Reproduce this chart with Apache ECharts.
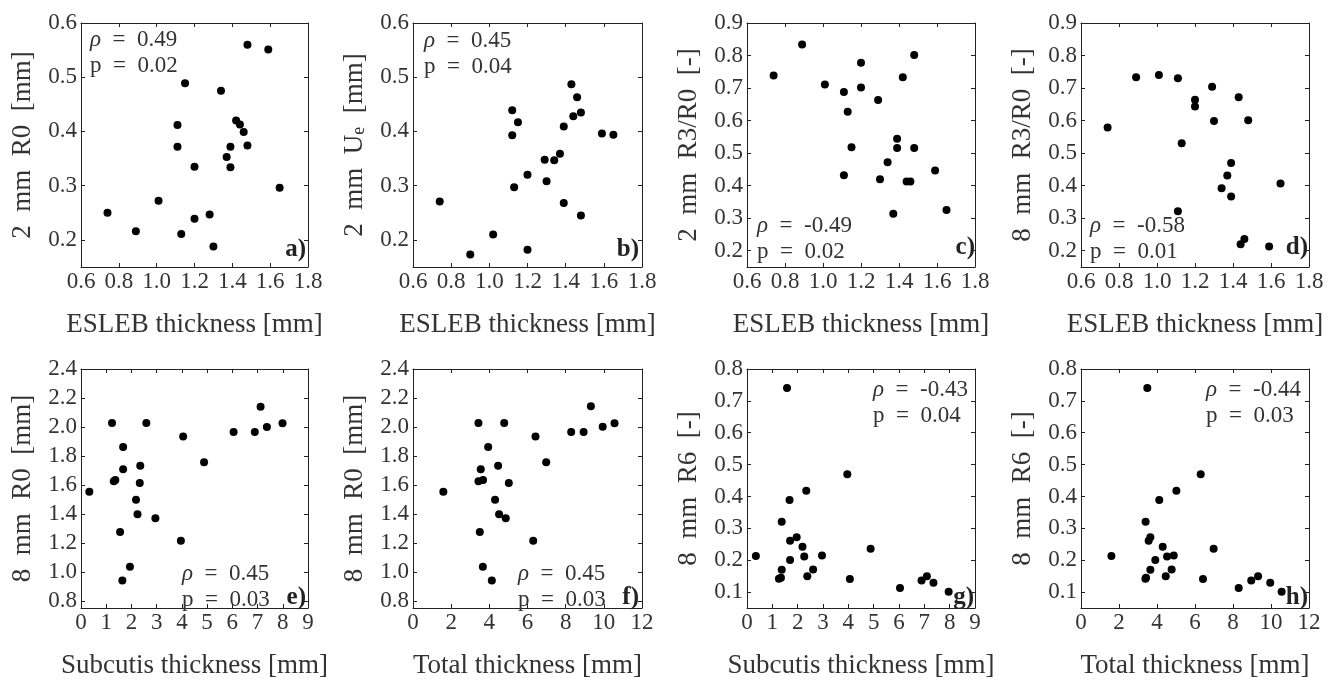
<!DOCTYPE html>
<html><head><meta charset="utf-8">
<script src="https://cdn.jsdelivr.net/npm/echarts@6/dist/echarts.min.js"></script>
<style>html,body{margin:0;padding:0;background:#fff}#c{width:1333px;height:680px}</style>
</head><body><div id="c"></div>
<script>
const FONT = "'Liberation Serif','DejaVu Serif',serif";

// ---- data ----
const aESLEB = [1.48,1.59,1.15,1.34,1.42,1.44,1.46,1.11,1.11,1.39,1.48,1.37,1.39,1.20,1.65,1.01,0.74,1.28,1.20,0.89,1.13,1.30];
const aR0_2mm = [0.560,0.551,0.489,0.475,0.420,0.413,0.399,0.412,0.372,0.372,0.374,0.353,0.334,0.335,0.296,0.272,0.250,0.247,0.239,0.216,0.211,0.188];

const bESLEB = [1.43,1.46,1.12,1.48,1.44,1.15,1.39,1.12,1.59,1.65,1.37,1.29,1.34,1.20,1.30,1.13,0.74,1.39,1.48,1.02,0.90,1.20];
const bUe_2mm = [0.487,0.463,0.439,0.435,0.428,0.417,0.409,0.393,0.396,0.394,0.359,0.348,0.347,0.320,0.308,0.297,0.271,0.268,0.245,0.210,0.173,0.182];

const cESLEB = [0.89,0.74,1.48,1.20,1.42,1.01,1.11,1.20,1.29,1.13,1.39,1.39,1.48,1.15,1.34,1.11,1.30,1.44,1.46,1.59,1.37,1.65];
const cR3R0_2mm = [0.834,0.739,0.802,0.778,0.733,0.711,0.688,0.702,0.663,0.627,0.544,0.516,0.516,0.518,0.472,0.432,0.420,0.413,0.413,0.447,0.314,0.325];

const dESLEB = [0.89,1.01,1.11,1.29,1.20,1.20,1.43,1.30,1.48,0.74,1.13,1.39,1.37,1.34,1.39,1.65,1.11,1.46,1.44,1.59];
const dR3R0_8mm = [0.733,0.740,0.730,0.704,0.664,0.643,0.672,0.599,0.601,0.579,0.530,0.470,0.431,0.392,0.367,0.407,0.321,0.236,0.220,0.213];

const eSubcutis = [1.23,2.59,7.12,6.05,6.89,7.37,7.99,4.05,1.67,4.88,1.67,2.35,1.30,1.36,2.33,0.33,2.18,2.24,2.95,1.55,3.96,1.94,1.64];
const eR0_8mm = [2.028,2.028,2.140,1.965,1.965,1.999,2.026,1.934,1.862,1.757,1.708,1.732,1.625,1.634,1.613,1.553,1.497,1.398,1.369,1.275,1.215,1.035,0.939];

const fTotal = [3.43,4.78,9.32,8.29,8.94,9.94,10.56,6.42,3.94,6.98,3.55,4.46,3.43,3.67,5.02,1.59,4.30,4.51,4.86,3.50,6.30,3.66,4.13];
const fR0_8mm = [2.028,2.028,2.142,1.965,1.965,2.001,2.026,1.934,1.862,1.757,1.708,1.732,1.625,1.634,1.613,1.553,1.497,1.398,1.369,1.275,1.215,1.035,0.939];

const gSubcutis = [1.58,3.96,2.34,1.68,1.37,1.96,1.70,2.19,4.88,0.35,2.26,2.96,1.70,2.61,1.37,1.26,1.34,2.38,4.06,6.04,6.89,7.10,7.36,7.96];
const gR6_8mm = [0.740,0.470,0.418,0.389,0.321,0.272,0.261,0.242,0.236,0.213,0.212,0.215,0.201,0.171,0.170,0.142,0.145,0.150,0.141,0.113,0.136,0.150,0.129,0.101];

const hTotal = [3.49,6.30,5.02,4.12,3.40,3.65,3.56,4.30,6.98,1.60,4.53,4.88,3.91,4.77,3.65,3.39,3.42,4.46,6.42,8.30,8.96,9.32,9.96,10.56];
const hR6_8mm = [0.740,0.470,0.418,0.389,0.321,0.272,0.261,0.242,0.236,0.213,0.212,0.215,0.201,0.171,0.170,0.142,0.145,0.150,0.141,0.113,0.136,0.150,0.129,0.101];

// tick labels
const eslebTicks = [0.6,0.8,1.0,1.2,1.4,1.6,1.8];
const subcutisTicks = [0,1,2,3,4,5,6,7,8,9];
const totalTicks = [0,2,4,6,8,10,12];
const ySmallTicks = [0.2,0.3,0.4,0.5,0.6];
const yRatioTicks = [0.2,0.3,0.4,0.5,0.6,0.7,0.8,0.9];
const yR0Ticks = [0.8,1.0,1.2,1.4,1.6,1.8,2.0,2.2,2.4];
const yR6Ticks = [0.1,0.2,0.3,0.4,0.5,0.6,0.7,0.8];

// statistics text
const rhoText = ['0.49','0.45','-0.49','-0.58','0.45','0.45','-0.43','-0.44'];
const pText = ['0.02','0.04','0.02','0.01','0.03','0.03','0.04','0.03'];
const panelLetters = ['a)','b)','c)','d)','e)','f)','g)','h)'];

// axis names (en spaces to approximate LaTeX word spacing)
const S = '\u2002';
const xNameESLEB = 'ESLEB thickness [mm]';
const xNameSubcutis = 'Subcutis thickness [mm]';
const xNameTotal = 'Total thickness [mm]';
const yNames = ['2'+S+'mm'+S+'R0'+S+'[mm]', '2'+S+'mm'+S+'U{s|e}'+S+'[mm]', '2'+S+'mm'+S+'R3/R0'+S+'[-]', '8'+S+'mm'+S+'R3/R0'+S+'[-]',
                '8'+S+'mm'+S+'R0'+S+'[mm]', '8'+S+'mm'+S+'R0'+S+'[mm]', '8'+S+'mm'+S+'R6'+S+'[-]', '8'+S+'mm'+S+'R6'+S+'[-]'];

// ---- layout ----
const panels = [
  {box:[81,23,227,244], x:aESLEB, y:aR0_2mm, xr:[0.6,1.8], xt:eslebTicks, xd:1, yr:[0.15,0.6], yt:ySmallTicks, xn:xNameESLEB, ann:[90,40], lab:[306,250]},
  {box:[413,23,229,244], x:bESLEB, y:bUe_2mm, xr:[0.6,1.8], xt:eslebTicks, xd:1, yr:[0.15,0.6], yt:ySmallTicks, xn:xNameESLEB, ann:[424,41], lab:[639,250]},
  {box:[747,23,228,244], x:cESLEB, y:cR3R0_2mm, xr:[0.6,1.8], xt:eslebTicks, xd:1, yr:[0.15,0.9], yt:yRatioTicks, xn:xNameESLEB, ann:[757,226], lab:[975,248]},
  {box:[1081,23,228,244], x:dESLEB, y:dR3R0_8mm, xr:[0.6,1.8], xt:eslebTicks, xd:1, yr:[0.15,0.9], yt:yRatioTicks, xn:xNameESLEB, ann:[1090,226], lab:[1308,248]},
  {box:[81,369,227,245], x:eSubcutis, y:eR0_8mm, xr:[0,9], xt:subcutisTicks, xd:0, yr:[0.75,2.4], yt:yR0Ticks, xn:xNameSubcutis, ann:[182,574], lab:[306,598]},
  {box:[413,369,229,245], x:fTotal, y:fR0_8mm, xr:[0,12], xt:totalTicks, xd:0, yr:[0.75,2.4], yt:yR0Ticks, xn:xNameTotal, ann:[518,574], lab:[639,598]},
  {box:[747,369,228,245], x:gSubcutis, y:gR6_8mm, xr:[0,9], xt:subcutisTicks, xd:0, yr:[0.05,0.8], yt:yR6Ticks, xn:xNameSubcutis, ann:[873,390], lab:[974,598]},
  {box:[1081,369,228,245], x:hTotal, y:hR6_8mm, xr:[0,12], xt:totalTicks, xd:0, yr:[0.05,0.8], yt:yR6Ticks, xn:xNameTotal, ann:[1206,390], lab:[1308,598]}
];

const TXT = '#333', LINE = '#222';
const nameStyle = {fontFamily:FONT, fontSize:27, color:TXT, rich:{s:{fontFamily:FONT, fontSize:18, color:TXT, verticalAlign:'bottom'}}};
const labStyle = {fontFamily:FONT, fontSize:23, color:TXT};

const grid=[], xAxis=[], yAxis=[], series=[], graphic=[];
panels.forEach((p,i)=>{
  grid.push({left:p.box[0], top:p.box[1], width:p.box[2], height:p.box[3], containLabel:false});
  [false,true].forEach(m=>{
    xAxis.push({type:'value', gridIndex:i, position:m?'top':'bottom', min:p.xr[0], max:p.xr[1],
      splitLine:{show:false},
      axisLine:{show:true, onZero:false, lineStyle:{color:LINE, width:1}},
      axisTick:{show:true, inside:true, length:4, customValues:p.xt, lineStyle:{color:LINE}},
      axisLabel:Object.assign({show:!m, customValues:p.xt, margin:3, formatter:v=>Number(v).toFixed(p.xd)}, labStyle),
      name:m?'':p.xn, nameLocation:'middle', nameGap:44, nameTextStyle:nameStyle});
    yAxis.push({type:'value', gridIndex:i, position:m?'right':'left', min:p.yr[0], max:p.yr[1],
      splitLine:{show:false},
      axisLine:{show:true, onZero:false, lineStyle:{color:LINE, width:1}},
      axisTick:{show:true, inside:true, length:4, customValues:p.yt, lineStyle:{color:LINE}},
      axisLabel:Object.assign({show:!m, customValues:p.yt, margin:4, formatter:v=>Number(v).toFixed(1)}, labStyle),
      name:m?'':yNames[i], nameLocation:'middle', nameGap:45, nameRotate:90, nameTextStyle:nameStyle});
  });
  series.push({type:'scatter', xAxisIndex:2*i, yAxisIndex:2*i, symbol:'circle', symbolSize:8,
    itemStyle:{color:'#000', opacity:1}, silent:true,
    data:p.x.map((v,k)=>[v,p.y[k]])});
  const rich = {i:{fontStyle:'italic', fontFamily:FONT, fontSize:23, fill:TXT}, n:{fontFamily:FONT, fontSize:23, fill:TXT}};
  graphic.push({type:'text', x:p.ann[0], y:p.ann[1], z:100,
    style:{text:'{i|ρ}{n|'+S+'='+S+rhoText[i]+'}', rich:rich, fontFamily:FONT, fontSize:23, fill:TXT, align:'left', verticalAlign:'middle'}});
  graphic.push({type:'text', x:p.ann[0], y:p.ann[1]+26, z:100,
    style:{text:'p'+S+'='+S+pText[i], fontFamily:FONT, fontSize:23, fill:TXT, align:'left', verticalAlign:'middle'}});
  graphic.push({type:'text', x:p.lab[0], y:p.lab[1], z:100,
    style:{text:panelLetters[i], fontFamily:FONT, fontSize:25, fontWeight:'bold', fill:'#222', align:'right', verticalAlign:'middle'}});
});

const chart = echarts.init(document.getElementById('c'), null, {renderer:'canvas'});
chart.setOption({backgroundColor:'#fff', animation:false, grid, xAxis, yAxis, series, graphic});
</script></body></html>
